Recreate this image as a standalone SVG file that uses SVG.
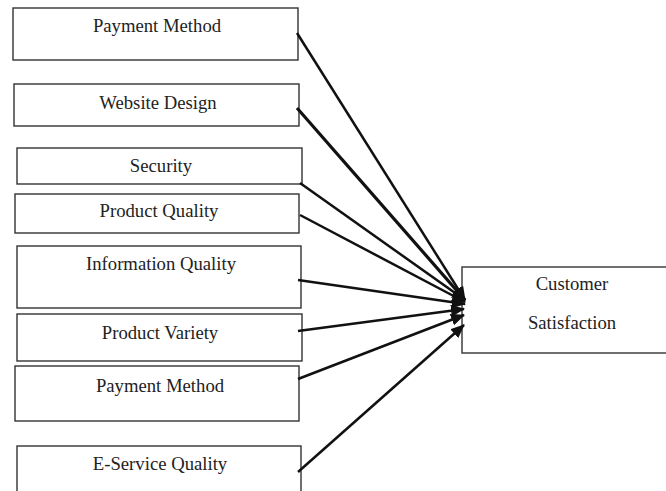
<svg xmlns="http://www.w3.org/2000/svg" width="666" height="491" viewBox="0 0 666 491">
<style>
.box{fill:#fff;stroke:#333;stroke-width:1.4}
.lbl{font-family:"Liberation Serif","Times New Roman",serif;font-size:18.7px;fill:#222;text-anchor:middle}
.c{stroke:#111;stroke-width:2.5;fill:none;marker-end:url(#ah)}
</style>
<defs>
<marker id="ah" markerUnits="userSpaceOnUse" markerWidth="14" markerHeight="12" refX="13" refY="6" orient="auto">
<path d="M0,0 L14,6 L0,12 z" fill="#111"/>
</marker>
</defs>
<rect width="666" height="491" fill="#fff"/>
<g id="n1"><rect class="box" x="13" y="8" width="285" height="52"/><text class="lbl" x="157" y="32">Payment Method</text></g>
<g id="n2"><rect class="box" x="14" y="84" width="285" height="42"/><text class="lbl" x="158" y="109">Website Design</text></g>
<g id="n3"><rect class="box" x="17" y="148" width="285" height="36"/><text class="lbl" x="161" y="172">Security</text></g>
<g id="n4"><rect class="box" x="15" y="194" width="284" height="39"/><text class="lbl" x="159" y="217">Product Quality</text></g>
<g id="n5"><rect class="box" x="17" y="246" width="284" height="62"/><text class="lbl" x="161" y="270">Information Quality</text></g>
<g id="n6"><rect class="box" x="17" y="314" width="285" height="47"/><text class="lbl" x="160" y="339">Product Variety</text></g>
<g id="n7"><rect class="box" x="15" y="366" width="284" height="55"/><text class="lbl" x="160" y="392">Payment Method</text></g>
<g id="n8"><rect class="box" x="17" y="446" width="284" height="60"/><text class="lbl" x="160" y="470">E-Service Quality</text></g>
<g id="n9"><rect class="box" x="462" y="267" width="210" height="86"/><text class="lbl" x="572" y="290">Customer</text><text class="lbl" x="572" y="329">Satisfaction</text></g>
<g id="connectors">
<line class="c" x1="297" y1="33" x2="465" y2="300"/>
<line class="c" x1="297" y1="108" x2="465" y2="300" style="stroke-width:3.2"/>
<line class="c" x1="300" y1="183" x2="465" y2="300"/>
<line class="c" x1="300" y1="215" x2="465" y2="302"/>
<line class="c" x1="298" y1="280" x2="465" y2="304"/>
<line class="c" x1="298" y1="331" x2="464" y2="309"/>
<line class="c" x1="298" y1="379" x2="464" y2="315"/>
<line class="c" x1="298" y1="472" x2="464" y2="325"/>
</g>
</svg>
